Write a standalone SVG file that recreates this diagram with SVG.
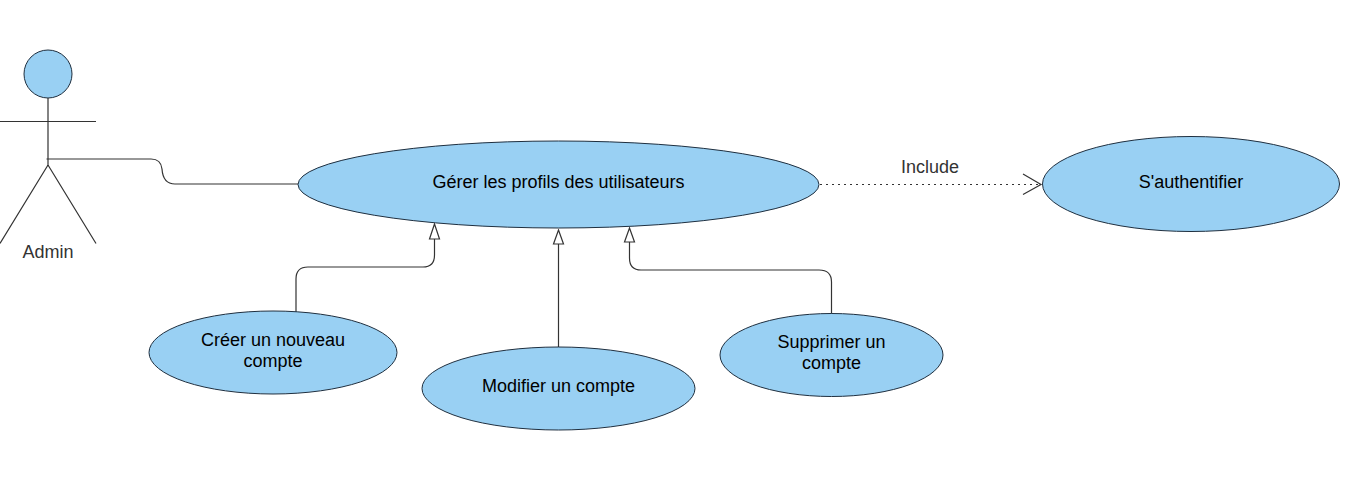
<svg xmlns="http://www.w3.org/2000/svg" width="1360" height="480" viewBox="0 0 1360 480">
<style>
.n{fill:#99d0f3;stroke:#1f2f3f;stroke-width:1}
.l{fill:none;stroke:#333;stroke-width:1.2}
.h{fill:#fff;stroke:#333;stroke-width:1.2}
text{font-family:"Liberation Sans",Arial,sans-serif;font-size:18px;text-anchor:middle;fill:#000}
.g{fill:#333}
</style>
<rect width="1360" height="480" fill="#fff"/>
<g id="connectors">
<path class="l" d="M46.500 159H151Q161 159 162 169Q163 184 175 184H298"/>
<path class="l" stroke-dasharray="2 4" d="M820 184.500H1040"/>
<path class="l" d="M1023 174L1041 184.500L1023 194.500"/>
<path class="l" d="M296 312V279Q296 267 308 267H423Q434.500 267 434.500 255V239"/>
<path class="h" d="M434.500 224L439.500 239H429.500Z"/>
<path class="l" d="M558.500 347V244"/>
<path class="h" d="M558.500 230L563.500 244H553.500Z"/>
<path class="l" d="M831.500 314V282Q831.500 270 819 270H641Q629.500 270 629.500 258V242"/>
<path class="h" d="M629.500 228L634.500 242H624.500Z"/>
</g>
<g id="admin">
<circle class="n" cx="48" cy="74" r="24"/>
<path class="l" d="M48 98V165M0 121.500H96M48 165L0 243.500M48 165L96 243.500"/>
<text class="g" x="48" y="258">Admin</text>
</g>
<g id="gerer">
<ellipse class="n" cx="558.500" cy="184.500" rx="260.500" ry="43.500"/>
<text x="558.500" y="188">Gérer les profils des utilisateurs</text>
</g>
<g id="authentifier">
<ellipse class="n" cx="1191" cy="184" rx="148.500" ry="47.500"/>
<text x="1191" y="188">S'authentifier</text>
</g>
<g id="creer">
<ellipse class="n" cx="273" cy="352.500" rx="124" ry="41.500"/>
<text x="273" y="346">Créer un nouveau</text>
<text x="273" y="367">compte</text>
</g>
<g id="modifier">
<ellipse class="n" cx="558.500" cy="388.500" rx="136.500" ry="41.500"/>
<text x="558.500" y="392">Modifier un compte</text>
</g>
<g id="supprimer">
<ellipse class="n" cx="831.500" cy="355" rx="111.500" ry="41.500"/>
<text x="831.500" y="348">Supprimer un</text>
<text x="831.500" y="369">compte</text>
</g>
<text class="g" x="930" y="173">Include</text>
</svg>
